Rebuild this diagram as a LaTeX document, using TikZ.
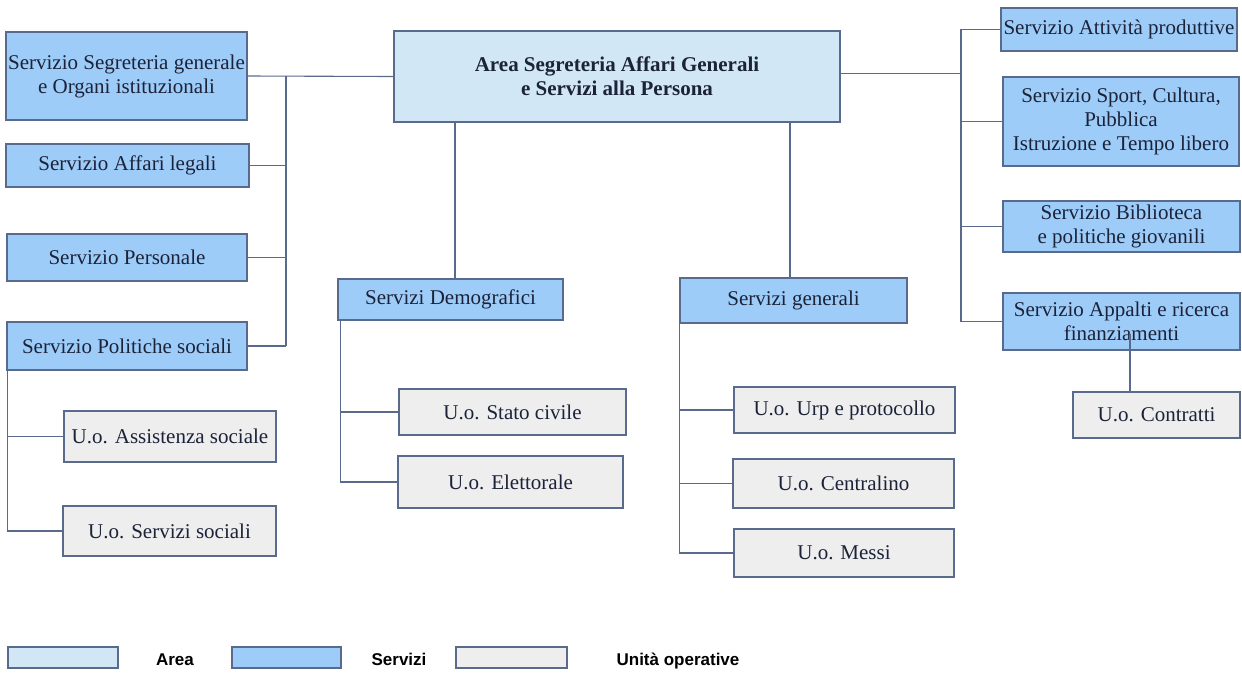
\documentclass[tikz,border=0pt]{standalone}
\usepackage{fontspec}
\setmainfont{Liberation Serif}
\setsansfont{Liberation Sans}
\definecolor{areafill}{HTML}{D2E7F6}
\definecolor{servfill}{HTML}{9DCCF9}
\definecolor{uofill}{HTML}{EEEEEE}
\definecolor{edgecol}{HTML}{5A6A8C}
\definecolor{txtcol}{HTML}{1C2238}
\tikzset{
	box/.style={draw=edgecol, line width=1.1pt, inner sep=0pt, align=center,
		text=txtcol, font=\fontsize{21}{24}\selectfont},
	areabox/.style={box, fill=areafill, font=\bfseries\fontsize{21}{24}\selectfont},
	servbox/.style={box, fill=servfill},
	uobox/.style={box, fill=uofill},
	link/.style={draw=edgecol, line width=1.1pt},
	legtext/.style={inner sep=0pt, anchor=base, text=black, font=\sffamily\bfseries\fontsize{17}{19}\selectfont}
}
\begin{document}
\begin{tikzpicture}[x=1pt,y=-1pt]
		\useasboundingbox (0,0) rectangle (1242,673);
		%
		% THE AREA
		\node[areabox, minimum width=446pt, minimum height=91pt] (area) at (617,76.5)
		{Area Segreteria Affari Generali\\e Servizi alla Persona};
		%
		% LEFT SIDE
		\node[servbox, minimum width=241pt, minimum height=88pt] (segreteria) at (126.5,76)
		{Servizio Segreteria generale\\e Organi istituzionali};
		\node[servbox, minimum width=243pt, minimum height=43pt] (legali) at (127.5,165.5)
		{Servizio Affari legali};
		\node[servbox, minimum width=240pt, minimum height=47pt] (personale) at (127,257.5)
		{Servizio Personale};
		\node[servbox, minimum width=240pt, minimum height=48pt] (politiche) at (127,346)
		{Servizio Politiche sociali};
		\node[uobox, minimum width=212pt, minimum height=51pt] (assistenza) at (170,436.5)
		{U.o. Assistenza sociale};
		\node[uobox, minimum width=213pt, minimum height=50pt] (sociali) at (169.5,531)
		{U.o. Servizi sociali};
		%
		% MIDDLE
		\node[servbox, minimum width=225pt, minimum height=41pt] (demografici) at (450.5,299.5)
		{Servizi Demografici};
		\node[uobox, minimum width=227pt, minimum height=46pt] (statocivile) at (512.5,412)
		{U.o. Stato civile};
		\node[uobox, minimum width=225pt, minimum height=52pt] (elettorale) at (510.5,482)
		{U.o. Elettorale};
		\node[servbox, minimum width=227pt, minimum height=45pt] (generali) at (793.5,300.5)
		{Servizi generali};
		\node[uobox, minimum width=221pt, minimum height=46pt] (urp) at (844.5,410)
		{U.o. Urp e protocollo};
		\node[uobox, minimum width=221pt, minimum height=49pt] (centralino) at (843.5,483.5)
		{U.o. Centralino};
		\node[uobox, minimum width=220pt, minimum height=48pt] (messi) at (844,553)
		{U.o. Messi};
		%
		% RIGHT SIDE
		\node[servbox, minimum width=236pt, minimum height=43pt] (attivita) at (1119,29.5)
		{Servizio Attività produttive};
		\node[servbox, minimum width=236pt, minimum height=89pt] (sport) at (1121,121.5)
		{Servizio Sport, Cultura,\\Pubblica\\Istruzione e Tempo libero};
		\node[servbox, minimum width=237pt, minimum height=51pt] (biblioteca) at (1121.5,226.5)
		{Servizio Biblioteca\\e politiche giovanili};
		\node[servbox, minimum width=237pt, minimum height=57pt] (appalti) at (1121.5,321.5)
		{Servizio Appalti e ricerca\\finanziamenti};
		\node[uobox, minimum width=167pt, minimum height=46pt] (contratti) at (1156.5,415)
		{U.o. Contratti};
		%
		% THE LINES
		% LEFT TRUNK
		\coordinate (ltrunk) at (286,0);
		\draw[link] (segreteria.east) -- (area.west);
		\draw[link] (segreteria.east -| ltrunk) -- (politiche.east -| ltrunk);
		\draw[link] (legali.east) -- (legali.east -| ltrunk);
		\draw[link] (personale.east) -- (personale.east -| ltrunk);
		\draw[link] (politiche.east) -- (politiche.east -| ltrunk);
		\draw[link] ([xshift=1pt]politiche.south west) |- (assistenza.west);
		\draw[link] ([xshift=1pt]politiche.south west) |- (sociali.west);
		% MIDDLE
		\draw[link] ([xshift=4.5pt]demografici.north) -- ([xshift=4.5pt]demografici.north |- area.south);
		\draw[link] ([xshift=3pt]demografici.south west) |- (statocivile.west);
		\draw[link] ([xshift=3pt]demografici.south west) |- (elettorale.west);
		\draw[link] ([xshift=-3.5pt]generali.north) -- ([xshift=-3.5pt]generali.north |- area.south);
		\draw[link] (generali.south west) |- (urp.west);
		\draw[link] (generali.south west) |- (centralino.west);
		\draw[link] (generali.south west) |- (messi.west);
		% RIGHT TRUNK
		\coordinate (rtrunk) at (961,0);
		\draw[link] ([yshift=3pt]area.east) -- ([yshift=3pt]area.east -| rtrunk);
		\draw[link] (attivita.west) -- (attivita.west -| rtrunk) -- (appalti.west -| rtrunk) -- (appalti.west);
		\draw[link] (sport.west) -- (sport.west -| rtrunk);
		\draw[link] (biblioteca.west) -- (biblioteca.west -| rtrunk);
		\draw[link] ([xshift=8.5pt,yshift=-12pt]appalti.center) -- ([xshift=8.5pt]appalti.center |- contratti.north);
		%
		% THE LEGEND
		\node[box, fill=areafill, minimum width=110pt, minimum height=21pt] (legarea) at (63,657.5) {};
		\node[legtext] (legareatxt) at (175,665) {Area};
		\node[box, fill=servfill, minimum width=109pt, minimum height=21pt] (legserv) at (286.5,657.5) {};
		\node[legtext] (legservtxt) at (399,665) {Servizi};
		\node[box, fill=uofill, minimum width=111pt, minimum height=21pt] (leguo) at (511.5,657.5) {};
		\node[legtext] (leguotxt) at (678,665) {Unità operative};
	\end{tikzpicture}
\end{document}
